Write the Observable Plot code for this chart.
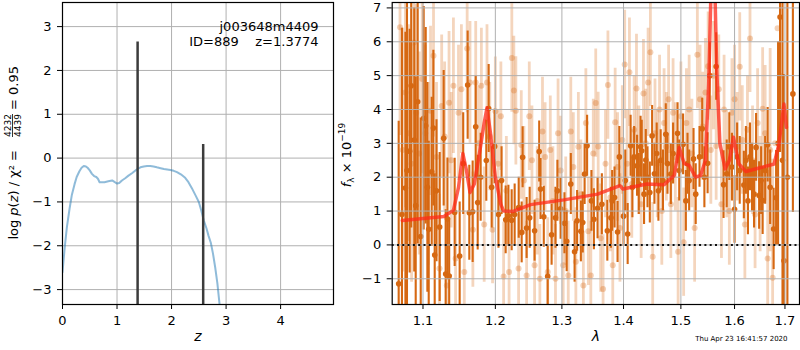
<!DOCTYPE html>
<html><head><meta charset="utf-8">
<script src="https://cdn.jsdelivr.net/npm/d3@7"></script>
<script src="https://cdn.jsdelivr.net/npm/@observablehq/plot@0.6"></script>
<style>
body{margin:0;background:#fff;}
#wrap{position:relative;width:800px;height:350px;font-family:"DejaVu Sans",sans-serif;}
#wrap svg{position:absolute;top:0;overflow:visible;}
</style></head><body><div id="wrap"></div>
<script>
// ---------- left panel: log p(z) ----------
const zGrid = [0, 0.04, 0.08, 0.13, 0.17, 0.22, 0.26, 0.31, 0.35, 0.39, 0.43, 0.46, 0.50, 0.54, 0.58, 0.62, 0.65, 0.68, 0.72, 0.77, 0.84, 0.91, 0.96, 1.0, 1.04, 1.09, 1.15, 1.21, 1.28, 1.36, 1.43, 1.49, 1.55, 1.61, 1.67, 1.73, 1.80, 1.86, 1.92, 1.98, 2.04, 2.10, 2.17, 2.25, 2.31, 2.37, 2.44, 2.50, 2.55, 2.59, 2.64, 2.68, 2.72, 2.76, 2.80, 2.84, 2.88, 2.92];
const logPz = [-2.6, -2.05, -1.58, -1.15, -0.85, -0.6, -0.43, -0.3, -0.22, -0.18, -0.19, -0.22, -0.28, -0.36, -0.41, -0.43, -0.47, -0.55, -0.55, -0.55, -0.53, -0.51, -0.55, -0.58, -0.57, -0.51, -0.46, -0.40, -0.34, -0.26, -0.21, -0.19, -0.18, -0.18, -0.19, -0.21, -0.23, -0.25, -0.26, -0.27, -0.29, -0.32, -0.37, -0.45, -0.55, -0.68, -0.85, -1.0, -1.22, -1.42, -1.6, -1.78, -1.93, -2.18, -2.49, -2.85, -3.33, -3.8];
const peakZ = [1.3774, 2.58];
const peakTop = [2.65, 0.31];
const zTicks = [0, 1, 2, 3, 4];
const lpTicks = [-3, -2, -1, 0, 1, 2, 3];
const infoLines = ["j003648m4409", "ID=889\u00a0\u00a0\u00a0\u00a0z=1.3774"];

// ---------- right panel: spectrum ----------
const waveTicks = [1.1, 1.2, 1.3, 1.4, 1.5, 1.6, 1.7];
const fluxTicks = [-1, 0, 1, 2, 3, 4, 5, 6, 7];
const zeroLevel = [0];
const modelWave = [1.073, 1.10, 1.128, 1.141, 1.148, 1.154, 1.159, 1.164, 1.170, 1.178, 1.184, 1.188, 1.193, 1.200, 1.208, 1.212, 1.226, 1.252, 1.303, 1.357, 1.394, 1.399, 1.440, 1.470, 1.488, 1.497, 1.506, 1.515, 1.527, 1.536, 1.545, 1.551, 1.555, 1.559, 1.563, 1.566, 1.572, 1.582, 1.590, 1.598, 1.608, 1.622, 1.650, 1.678, 1.688, 1.698, 1.703];
const modelFlux = [0.72, 0.78, 0.84, 1.02, 1.7, 2.7, 2.2, 1.55, 1.8, 2.8, 3.6, 4.05, 3.3, 2.0, 1.2, 1.0, 0.99, 1.19, 1.33, 1.5, 1.75, 1.65, 1.8, 1.78, 2.05, 2.88, 2.4, 2.35, 2.0, 2.05, 2.5, 4.76, 7.3, 7.5, 7.3, 5.2, 3.0, 2.24, 2.5, 3.18, 2.4, 2.17, 2.28, 2.39, 3.0, 4.16, 3.47];

const darkWave = [1.0683,1.0725,1.0770,1.0825,1.0845,1.0904,1.0930,1.0970,1.1009,1.1036,1.1076,1.1116,1.1138,1.1156,1.1223,1.1277,1.1304,1.1328,1.1352,1.1427,1.1496,1.1545,1.1607,1.1630,1.1677,1.1720,1.1748,1.1790,1.1870,1.1904,1.1947,1.1990,1.2045,1.2090,1.2150,1.2190,1.2238,1.2282,1.2342,1.2386,1.2400,1.2460,1.2506,1.2580,1.2650,1.2670,1.2720,1.2780,1.2840,1.2900,1.2930,1.2980,1.3040,1.3075,1.3140,1.3200,1.3240,1.3300,1.3330,1.3360,1.3400,1.3470,1.3510,1.3570,1.3640,1.3730,1.3790,1.3810,1.3850,1.3900,1.3930,1.4000,1.4070,1.4120,1.4180,1.4230,1.4290,1.4310,1.4380,1.4450,1.4490,1.4570,1.4640,1.4730,1.4820,1.4860,1.4940,1.5040,1.5090,1.5150,1.5230,1.5270,1.5340,1.5390,1.5490,1.5530,1.5650,1.5790,1.5850,1.5950,1.6000,1.6100,1.6180,1.6260,1.6300,1.6380,1.6420,1.6480,1.6550,1.6600,1.6650,1.6700,1.6770,1.6820,1.6860,1.6900,1.6950,1.6980,1.7050,1.7163,
  1.0790,1.0885,1.1058,1.1180,1.4030,1.4150,1.4260,1.4350,1.4410,1.4530,1.4600,1.4680,1.4760,1.4970,1.5120,1.5430,1.5900,1.6050,1.6220,1.6340,1.6520];
const darkFlux = [-1.15,0.9,1.68,2.77,4.7,1.16,4.23,0.25,3.74,3.52,0.46,2.16,3.45,-0.3,0.53,3.15,-0.86,0.77,-0.92,0.96,-0.33,2.4,4.72,0.95,0.98,3.49,1.25,2.0,2.49,4.03,1.7,2.91,0.9,1.9,0.74,0.86,0.73,0.9,1.1,0.37,2.59,0.5,0.8,0.42,2.76,1.65,0.83,-0.93,0.3,0.8,1.6,1.07,0.64,0.11,1.8,-0.2,0.71,0.4,0.66,2.09,2.93,1.3,0.76,1.08,1.2,0.42,0.8,1.3,1.4,0.38,2.6,0.85,0.32,2.93,2.6,2.34,2.9,2.78,2.51,1.55,3.22,2.7,2.5,3.27,2.09,2.7,3.3,2.97,1.3,1.9,2.54,1.5,2.6,3.43,2.41,5.0,5.27,1.78,2.1,2.3,1.05,2.2,1.77,1.3,2.6,1.5,2.88,1.46,1.31,2.2,2.96,1.7,0.47,1.39,3.0,6.73,2.5,-0.47,2.0,4.46,
  2.2,3.1,1.7,1.6,1.9,1.7,1.8,1.5,2.0,2.1,1.6,1.9,2.4,2.2,2.4,2.0,2.9,2.6,2.5,2.0,1.9];
const darkErr = [4.8,5.5,4.6,3.6,4.2,3.8,4.2,3.5,3.3,2.9,2.6,2.2,2.3,2.4,2.2,2.0,1.9,1.8,1.7,1.6,1.6,1.5,1.6,1.4,1.5,1.5,1.4,1.3,1.2,1.3,1.2,1.1,1.0,1.0,1.0,0.9,0.9,0.9,0.9,0.9,0.9,0.9,0.9,0.9,0.9,0.9,0.9,0.9,0.9,0.9,0.9,0.9,0.9,0.9,0.9,0.9,0.9,0.9,0.9,0.9,0.9,0.9,0.9,0.9,0.9,0.9,0.9,0.9,0.9,0.9,0.9,0.9,0.9,0.9,0.9,0.9,0.9,0.9,0.9,0.9,0.9,0.9,0.9,0.9,0.9,0.9,0.9,0.9,0.9,0.9,0.9,0.9,0.9,0.9,0.9,1.0,1.0,1.0,1.0,1.0,1.0,1.0,1.0,1.0,1.0,1.0,1.0,1.0,1.0,1.0,1.1,1.1,1.2,1.4,3.0,4.0,5.0,5.5,6.0,3.5,
  5.5,3.9,3.1,2.1,0.9,0.9,0.9,0.9,0.9,0.9,0.9,0.9,0.9,0.9,0.9,0.9,1.0,1.0,1.0,1.0,1.0];

const lightWave = [1.0700,1.0735,1.0770,1.0810,1.0850,1.0880,1.0910,1.0950,1.0990,1.1030,1.1070,1.1100,1.1140,1.1180,1.1220,1.1250,1.1290,1.1320,1.1350,1.1380,1.1410,1.1440,1.1480,1.1520,1.1560,1.1600,1.1640,1.1680,1.1720,1.1760,1.1800,1.1840,1.1880,1.1920,1.1960,1.2000,1.2040,1.2080,1.2120,1.2160,1.2200,1.2240,1.2270,1.2300,1.2340,1.2380,1.2420,1.2460,1.2500,1.2540,1.2580,1.2620,1.2660,1.2700,1.2740,1.2780,1.2820,1.2860,1.2900,1.2940,1.2980,1.3020,1.3060,1.3100,1.3140,1.3180,1.3220,1.3260,1.3300,1.3340,1.3380,1.3420,1.3460,1.3500,1.3540,1.3580,1.3620,1.3660,1.3700,1.3740,1.3780,1.3820,1.3860,1.3900,1.3940,1.3980,1.4020,1.4060,1.4100,1.4140,1.4180,1.4220,1.4260,1.4300,1.4340,1.4380,1.4420,1.4460,1.4500,1.4540,1.4580,1.4620,1.4660,1.4700,1.4740,1.4780,1.4820,1.4860,1.4900,1.4950,1.5000,1.5050,1.5100,1.5150,1.5200,1.5250,1.5300,1.5350,1.5400,1.5450,1.5500,1.5550,1.5600,1.5650,1.5700,1.5750,1.5800,1.5850,1.5900,1.5950,1.6000,1.6050,1.6100,1.6150,1.6200,1.6250,1.6300,1.6350,1.6400,1.6450,1.6500,1.6550,1.6600,1.6650,1.6700,1.6750,1.6800,1.6850,1.6900];
const lightFlux = [6.43,2.8,4.5,3.3,2.4,5.98,3.9,2.7,4.9,3.3,2.1,3.96,5.59,2.6,-0.7,4.1,3.2,-1.2,4.2,2.5,4.7,-0.4,3.9,4.6,-0.8,5.8,4.8,0.45,4.8,3.0,4.7,0.6,4.8,3.2,0.45,3.95,2.4,3.8,-0.93,1.6,-0.8,5.52,4.56,3.96,-0.7,2.95,1.9,-0.9,3.8,2.5,-0.6,1.3,-1.0,3.35,2.6,-0.8,2.8,1.3,-1.0,3.3,2.2,-0.6,1.0,-0.9,3.35,2.3,-0.5,2.9,1.5,-1.2,3.6,0.4,-0.9,2.7,4.19,2.91,0.2,-1.3,2.4,4.72,1.4,-0.6,3.62,2.3,0.5,3.1,5.33,2.4,5.1,1.8,3.4,4.62,2.5,1.2,4.47,3.0,4.8,5.69,-0.35,3.3,2.4,4.0,1.0,3.6,2.9,4.3,1.2,3.9,2.6,-0.2,3.8,0.08,3.6,4.0,2.7,0.5,5.62,4.3,3.5,4.5,5.28,2.8,5.0,2.92,4.6,1.2,4.0,2.4,1.0,3.9,4.3,2.9,5.26,3.1,0.6,3.4,6.1,2.5,0.9,3.6,1.5,4.02,3.3,-0.4,2.8,-0.97,3.0,6.4,5.0];
const lightErr = [3.2,3.6,3.4,3.2,3.5,3.0,3.2,3.0,2.8,2.6,2.7,2.5,2.4,2.2,2.2,2.1,2.2,2.0,2.1,2.0,2.0,1.9,2.0,1.9,1.8,1.9,1.8,1.7,1.8,1.7,1.7,1.7,1.7,1.6,1.6,1.6,1.6,1.6,1.6,1.6,1.6,1.6,1.6,1.6,1.6,1.6,1.6,1.6,1.6,1.6,1.6,1.6,1.6,1.6,1.6,1.6,1.6,1.6,1.6,1.6,1.6,1.6,1.6,1.6,1.6,1.6,1.6,1.6,1.6,1.6,1.6,1.6,1.6,1.6,1.6,1.6,1.6,1.6,1.6,1.6,1.6,1.6,1.6,1.6,1.6,1.6,1.6,1.6,1.6,1.6,1.6,1.6,1.6,1.6,1.6,1.6,1.6,1.6,1.6,1.6,1.6,1.6,1.6,1.6,1.6,1.6,1.6,1.6,1.6,1.6,1.6,1.6,1.6,1.6,1.6,1.6,1.6,1.6,1.6,1.6,1.6,1.6,1.6,1.6,1.6,1.6,1.6,1.6,1.6,1.6,1.6,1.6,1.6,1.6,1.6,1.6,1.6,1.6,1.6,1.6,1.7,1.8,2.0,2.6,3.0,3.5];
const stamp = "Thu Apr 23 16:41:57 2020";

// ---------- build tables ----------
const pz = zGrid.map((z, i) => ({z, lp: logPz[i]}));
const peaks = peakZ.map((z, i) => ({z, top: peakTop[i]}));
const model = modelWave.map((w, i) => ({w, f: modelFlux[i]}));
const dark = darkWave.map((w, i) => ({w, f: darkFlux[i], e: darkErr[i]}));
const light = lightWave.map((w, i) => ({w, f: lightFlux[i], e: lightErr[i]}));

const FONT = "DejaVu Sans";
const ORANGE = "#d66812";
const GRID = "#b0b0b0";
const baseStyle = {fontSize: "13px", fontFamily: FONT, background: "transparent", color: "black", overflow: "visible"};

const leftDomainY = [-3.34, 3.55];
const left = Plot.plot({
  width: 340, height: 350,
  marginLeft: 62, marginRight: 7, marginTop: 2, marginBottom: 46,
  style: baseStyle,
  x: {domain: [0, 4.97]},
  y: {domain: leftDomainY},
  marks: [
    Plot.gridX(zTicks, {stroke: GRID, strokeOpacity: 1, strokeWidth: 1}),
    Plot.gridY(lpTicks, {stroke: GRID, strokeOpacity: 1, strokeWidth: 1}),
    Plot.line(pz, {x: "z", y: "lp", stroke: "#1f77b4", strokeOpacity: 0.5, strokeWidth: 2, clip: true}),
    Plot.ruleX(peaks, {x: "z", y1: () => leftDomainY[0], y2: "top", stroke: "#3c3c3c", strokeWidth: 2.5}),
    Plot.frame({stroke: "black", strokeWidth: 1.2}),
    Plot.axisX(zTicks, {tickSize: 5, tickPadding: 6, label: null, tickFormat: d3.format("d")}),
    Plot.axisY(lpTicks, {tickSize: 5, tickPadding: 6, label: null, tickFormat: d3.format("d")}),
    Plot.text([infoLines[0]], {text: d => d, frameAnchor: "top-right", dx: -15, dy: 19, textAnchor: "end", fontSize: 13}),
    Plot.text([infoLines[1]], {text: d => d, frameAnchor: "top-right", dx: -15, dy: 34, textAnchor: "end", fontSize: 13}),
    Plot.text(["z"], {text: d => d, frameAnchor: "bottom", dy: 36, fontSize: 14, fontStyle: "italic"})
  ]
});
left.style.left = "0px";

const right = Plot.plot({
  width: 460, height: 350,
  marginLeft: 51.7, marginRight: 1, marginTop: 2, marginBottom: 46,
  style: baseStyle,
  x: {type: "log", domain: [1.06, 1.73]},
  y: {domain: [-1.76, 7.16]},
  marks: [
    Plot.ruleX(light, {x: "w", y1: d => d.f - d.e, y2: d => d.f + d.e, stroke: ORANGE, strokeOpacity: 0.28, strokeWidth: 2.8, clip: true}),
    Plot.dot(light, {x: "w", y: "f", r: 3, fill: ORANGE, fillOpacity: 0.3, stroke: "none", clip: true}),
    Plot.ruleX(dark, {x: "w", y1: d => d.f - d.e, y2: d => d.f + d.e, stroke: ORANGE, strokeWidth: 2.1, clip: true}),
    Plot.dot(dark, {x: "w", y: "f", r: 2.8, fill: ORANGE, stroke: "none", clip: true}),
    Plot.gridX(waveTicks, {stroke: GRID, strokeOpacity: 1, strokeWidth: 1}),
    Plot.gridY(fluxTicks, {stroke: GRID, strokeOpacity: 1, strokeWidth: 1}),
    Plot.ruleY(zeroLevel, {stroke: "#111", strokeWidth: 2, strokeDasharray: "2,3.3"}),
    Plot.line(model, {x: "w", y: "f", stroke: "#ff2a1a", strokeOpacity: 0.75, strokeWidth: 3.5, clip: true}),
    Plot.frame({stroke: "black", strokeWidth: 1.2}),
    Plot.axisX(waveTicks, {tickSize: 5, tickPadding: 6, label: null, tickFormat: d3.format(".1f")}),
    Plot.axisY(fluxTicks, {tickSize: 5, tickPadding: 6, label: null, tickFormat: d3.format("d")}),
    Plot.text(["λ"], {text: d => d, frameAnchor: "bottom", dy: 36, fontSize: 14, fontStyle: "italic"}),
    Plot.text([stamp], {text: d => d, frameAnchor: "bottom-right", dx: -12, dy: 36, textAnchor: "end", fontSize: 7})
  ]
});
right.style.left = "340px";

const wrap = document.getElementById("wrap");
wrap.appendChild(left);
wrap.appendChild(right);

// ---- left y label: log p(z) / χ² = 4232/4439 = 0.95 ----
{
  const g = d3.select(left).append("g")
    .attr("transform", "translate(13,154) rotate(-90)")
    .attr("font-family", FONT).attr("fill", "black").attr("text-anchor", "start");
  const t1 = g.append("text").attr("x", 4).attr("text-anchor", "end").attr("dy", "0.35em").attr("font-size", 13);
  t1.append("tspan").text("log ");
  t1.append("tspan").attr("font-style", "italic").text("p");
  t1.append("tspan").text("(");
  t1.append("tspan").attr("font-style", "italic").text("z");
  t1.append("tspan").text(") / χ² =");
  g.append("text").attr("x", 28.5).attr("y", -5.5).attr("dy", "0.35em").attr("text-anchor", "middle").attr("font-size", 9).text("4232");
  g.append("text").attr("x", 28.5).attr("y", 4.5).attr("dy", "0.35em").attr("text-anchor", "middle").attr("font-size", 9).text("4439");
  g.append("line").attr("x1", 17).attr("x2", 40).attr("y1", -0.5).attr("y2", -0.5).attr("stroke", "black").attr("stroke-width", 0.8);
  g.append("text").attr("x", 44).attr("text-anchor", "start").attr("dy", "0.35em").attr("font-size", 13).text("= 0.95");
}
// ---- right y label: f_λ × 10^−19 ----
{
  const g = d3.select(right).append("g")
    .attr("transform", "translate(6,155) rotate(-90)")
    .attr("font-family", FONT).attr("fill", "black");
  const t = g.append("text").attr("text-anchor", "middle").attr("dy", "0.35em").attr("font-size", 13);
  t.append("tspan").attr("font-style", "italic").text("f");
  t.append("tspan").attr("font-size", 9).attr("dy", 3).text("λ");
  t.append("tspan").attr("dy", -3).text(" × 10");
  t.append("tspan").attr("font-size", 9).attr("dy", -6).text("−19");
}
</script></body></html>
